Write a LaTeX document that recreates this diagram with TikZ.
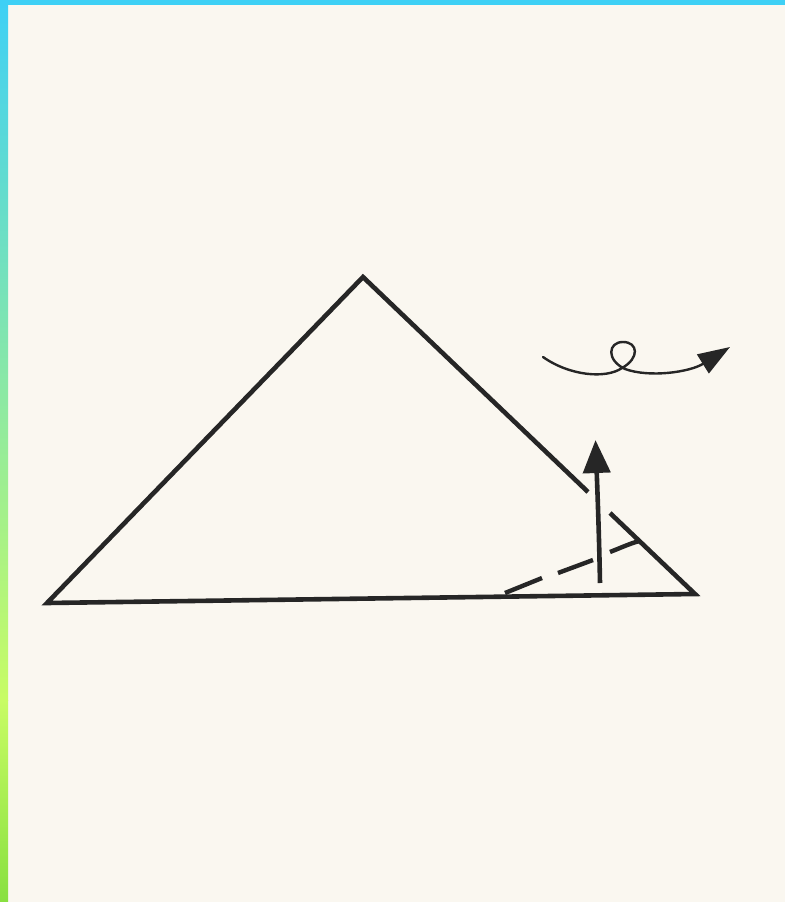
\documentclass[tikz,border=0pt]{standalone}
\usetikzlibrary{arrows.meta}
\definecolor{paper}{RGB}{250,247,240}
\definecolor{ink}{RGB}{38,38,38}
\definecolor{barcyan}{RGB}{62,208,245}
\definecolor{baryg}{RGB}{200,252,100}
\definecolor{bargreen}{RGB}{136,224,64}
\begin{document}
\begin{tikzpicture}[x=1pt,y=-1pt,
  edge/.style={draw=ink,line width=4.6pt,line join=miter,line cap=butt},
  dashseg/.style={draw=ink,line width=4.4pt,line cap=butt},
  thin/.style={draw=ink,line width=2.4pt,line cap=round}]
\useasboundingbox (0,0) rectangle (785,902);
\fill[paper] (0,0) rectangle (785,902);
% border bars
\shade[top color=barcyan,bottom color=baryg] (0,0) rectangle (8,700);
\shade[top color=baryg,bottom color=bargreen] (0,700) rectangle (8,902);
\fill[barcyan] (0,0) rectangle (785,5);
% triangle
\coordinate (L) at (47,603);
\coordinate (A) at (363,277);
\coordinate (R) at (695,594);
\coordinate (g1) at (588,492);
\coordinate (g2) at (610,513);
\draw[edge] (g1) -- (A) -- (L) -- (R) -- (g2);
% dashed fold line
\coordinate (d1a) at (505,593);
\coordinate (d1b) at (542,578);
\coordinate (d2a) at (558,573);
\coordinate (d2b) at (593,560);
\coordinate (d3a) at (610,552);
\coordinate (d3b) at (640,541);
\draw[dashseg] (d1a) -- (d1b);
\draw[dashseg] (d2a) -- (d2b);
\draw[dashseg] (d3a) .. controls (625,546) and (634,542) .. (d3b);
% vertical arrow
\coordinate (v0) at (600,583);
\coordinate (v1) at (595.5,440);
\draw[edge,-{Triangle[length=33pt,width=27pt]}] (v0) .. controls (599,530) and (597,480) .. (v1);
% curly arrow
\coordinate (c0) at (543,357);
\coordinate (cx) at (622,368);
\coordinate (c1) at (730,347);
\draw[thin,-{Triangle[length=32pt,width=22pt]}] (c0) .. controls (570,376) and (606,379) .. (cx)
  .. controls (640,358) and (638,342) .. (623,342)
  .. controls (608,342) and (606,360) .. (625,369)
  .. controls (650,378) and (690,372) .. (c1);
\end{tikzpicture}
\end{document}
